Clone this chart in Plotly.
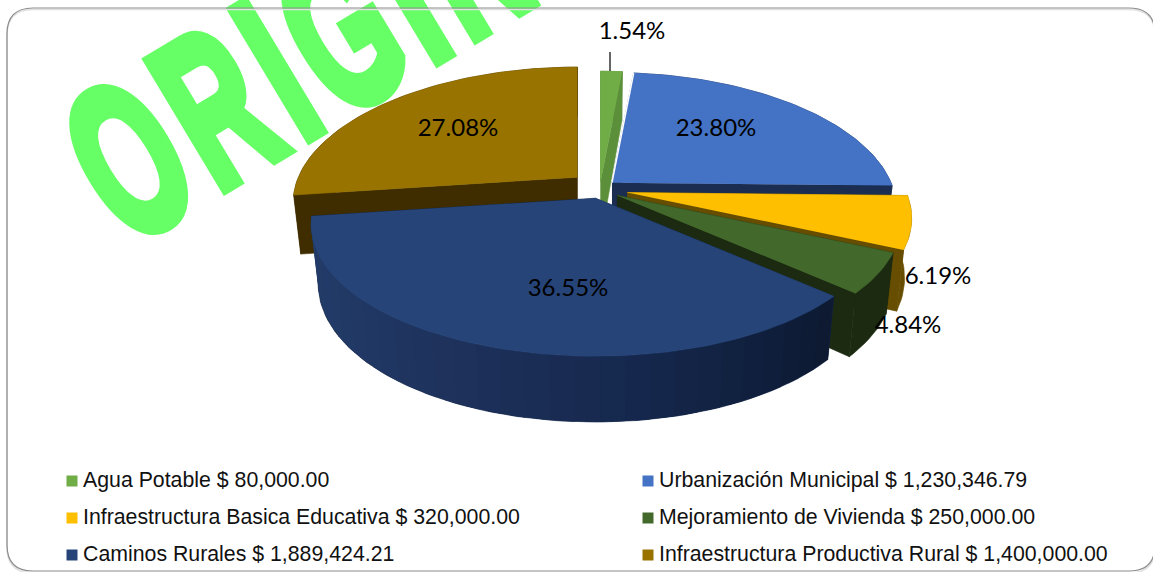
import math
import plotly.graph_objects as go

# ---- data ----
categories = ["Agua Potable", "Urbanización Municipal", "Infraestructura Basica Educativa",
              "Mejoramiento de Vivienda", "Caminos Rurales", "Infraestructura Productiva Rural"]
values = [80000.00, 1230346.79, 320000.00, 250000.00, 1889424.21, 1400000.00]
value_labels = ["$ 80,000.00", "$ 1,230,346.79", "$ 320,000.00", "$ 250,000.00", "$ 1,889,424.21", "$ 1,400,000.00"]
percent_labels = ["1.54%", "23.80%", "6.19%", "4.84%", "36.55%", "27.08%"]

# ---- style ----
top_colors = ["#70AD47", "#4472C4", "#FDBF00", "#43682B", "#264478", "#997300"]
wall_colors = ["#5B8F3A", "#1B2D50", "#664D00", "#1B2A11", "#14264A", "#3F2D00"]
explode = [13, 16, 28, 20, 16, 30]
draw_order = [5, 0, 1, 2, 3, 4]
label_xy = [(632, 33), (716, 130), (938, 278), (908, 327), (568, 290), (458, 130)]
legend_marker_xy = [(72, 481), (648, 481), (72, 518), (648, 518), (72, 555), (648, 555)]
CX, CY = 600, 189
RX, PERSP, RY0, RYK = 279, 0.20, 134, 24
W, H = 1153, 572


def rim(theta):
    s, c = math.sin(theta), math.cos(theta)
    return s * RX * (1 - PERSP * c), -c * (RY0 - RYK * c)


def depth(theta):
    return 58 - 11 * math.cos(theta)


def mix(a, b, t):
    pa = [int(a[i:i + 2], 16) for i in (1, 3, 5)]
    pb = [int(b[i:i + 2], 16) for i in (1, 3, 5)]
    return "rgb(%d,%d,%d)" % tuple(round(x + (y - x) * t) for x, y in zip(pa, pb))


def poly(xs, ys, color, width=0.6):
    return go.Scatter(x=xs, y=ys, mode="lines", fill="toself", fillcolor=color,
                      line=dict(color=color, width=width), hoverinfo="skip", showlegend=False)


total = sum(values)
bounds = []
acc = 0.0
for v in values:
    bounds.append((acc / total * 2 * math.pi, (acc + v) / total * 2 * math.pi))
    acc += v

fig = go.Figure()

for i in draw_order:
    t0, t1 = bounds[i]
    mid = (t0 + t1) / 2
    ax = CX + explode[i] * math.sin(mid)
    ay = CY - explode[i] * math.cos(mid) * 0.6
    n = max(4, int((t1 - t0) * 40))
    ts = [t0 + (t1 - t0) * k / n for k in range(n + 1)]
    top = [(ax + rim(t)[0], ay + rim(t)[1]) for t in ts]
    bot = [(ax + rim(t)[0] * 0.975, ay + rim(t)[1] * 0.98 + depth(t)) for t in ts]
    apex_bot = (ax, ay + 58)
    # cut faces
    for e in (0, -1):
        fig.add_trace(poly([ax, top[e][0], bot[e][0], apex_bot[0]],
                           [ay, top[e][1], bot[e][1], apex_bot[1]], wall_colors[i]))
    # outer wall
    fig.add_trace(poly([p[0] for p in top] + [p[0] for p in bot[::-1]],
                       [p[1] for p in top] + [p[1] for p in bot[::-1]], wall_colors[i]))
    if i == 4:
        lo, hi = min(p[0] for p in top), max(p[0] for p in top)
        stops = ["#223B68", "#1C2F58", "#14264A", "#0C1930"]
        m = 30
        for k in range(m):
            a = t0 + (t1 - t0) * k / m
            b = t0 + (t1 - t0) * (k + 1) / m
            # each band is overpainted by the next one so that no seams show
            b2 = min(t1, b + (t1 - t0) / m * 0.6)
            xa, ya = rim(a)
            xb, yb = rim(b2)
            u = ((xa + xb) / 2 + ax - lo) / (hi - lo)
            u = max(0.0, min(0.999, u)) * (len(stops) - 1)
            j = int(u)
            color = mix(stops[j], stops[j + 1], u - j)
            fig.add_trace(poly([ax + xa, ax + xb, ax + xb * 0.975, ax + xa * 0.975],
                               [ay + ya, ay + yb, ay + yb * 0.98 + depth(b2), ay + ya * 0.98 + depth(a)],
                               color, width=0))
    # top face
    fig.add_trace(poly([ax] + [p[0] for p in top], [ay] + [p[1] for p in top], top_colors[i]))
    if i == 1:
        fig.add_trace(go.Scatter(x=[ax, top[0][0]], y=[ay, top[0][1]], mode="lines",
                                 line=dict(color="#FFFFFF", width=1.5), hoverinfo="skip", showlegend=False))

# leader line of the smallest slice
fig.add_trace(go.Scatter(x=[610, 610], y=[52, 71], mode="lines", line=dict(color="#000000", width=1.2),
                         hoverinfo="skip", showlegend=False))

# percent labels
fig.add_trace(go.Scatter(x=[p[0] for p in label_xy], y=[p[1] for p in label_xy], text=percent_labels,
                         mode="text", textposition="middle center",
                         textfont=dict(family="Lato", size=24, color="#000000"),
                         hoverinfo="skip", showlegend=False))

# legend
fig.add_trace(go.Scatter(x=[p[0] for p in legend_marker_xy], y=[p[1] for p in legend_marker_xy], mode="markers",
                         marker=dict(symbol="square", size=11, color=top_colors, line=dict(width=0)),
                         hoverinfo="skip", showlegend=False))
fig.add_trace(go.Scatter(x=[p[0] + 11 for p in legend_marker_xy], y=[p[1] + 1 for p in legend_marker_xy], mode="text",
                         text=[f"{c} {v}" for c, v in zip(categories, value_labels)],
                         textposition="middle right",
                         textfont=dict(family="Liberation Sans", size=21.3, color="#111111"),
                         hoverinfo="skip", showlegend=False))

border = "M 33 {y0} L 1129 {y0} Q 1155 {y0} 1155 {y2} L 1155 {y3} Q 1155 {y1} 1129 {y1} L 33 {y1} Q 7 {y1} 7 {y3} L 7 {y2} Q 7 {y0} 33 {y0} Z"
shapes = [
    dict(type="rect", xref="x", yref="y", x0=100, x1=600, y0=60, y1=200, layer="below",
         line=dict(width=0), fillcolor="rgba(0,0,0,0)",
         label=dict(text="ORIGINAL", textposition="middle center", textangle=-31,
                    font=dict(family="Liberation Sans", size=215, color="#66FF66", weight=700))),
    dict(type="path", xref="x", yref="y", layer="below", line=dict(color="#E0E0E0", width=1.5),
         path=border.format(y0=9.5, y1=573, y2=35.5, y3=547)),
    dict(type="path", xref="x", yref="y", layer="below", line=dict(color="#8C8C8C", width=1.2),
         path=border.format(y0=8, y1=571, y2=34, y3=545)),
]

fig.update_layout(width=W, height=H, margin=dict(l=0, r=0, t=0, b=0), paper_bgcolor="#FFFFFF",
                  plot_bgcolor="rgba(0,0,0,0)", showlegend=False, shapes=shapes,
                  xaxis=dict(range=[0, W], visible=False, fixedrange=True),
                  yaxis=dict(range=[H, 0], visible=False, fixedrange=True))

post = """
document.body.style.margin = '0';
document.querySelectorAll('svg text').forEach(function (t) {
  if (t.textContent === 'ORIGINAL') {
    t.setAttribute('x', 0); t.setAttribute('y', 0);
    t.setAttribute('text-anchor', 'start');
    t.setAttribute('letter-spacing', '20');
    t.setAttribute('transform', 'translate(127,247) rotate(-31) scale(0.56,1)');
    t.style.stroke = '#66FF66'; t.style.strokeWidth = '10px';
    t.style.vectorEffect = 'non-scaling-stroke';
    t.style.strokeLinejoin = 'miter';
    var p = t.parentNode;
    while (p && p.tagName !== 'svg') { if (p.removeAttribute) p.removeAttribute('clip-path'); p = p.parentNode; }
  }
});
"""
fig.write_html("out.html", config=dict(displayModeBar=False), post_script=post)
